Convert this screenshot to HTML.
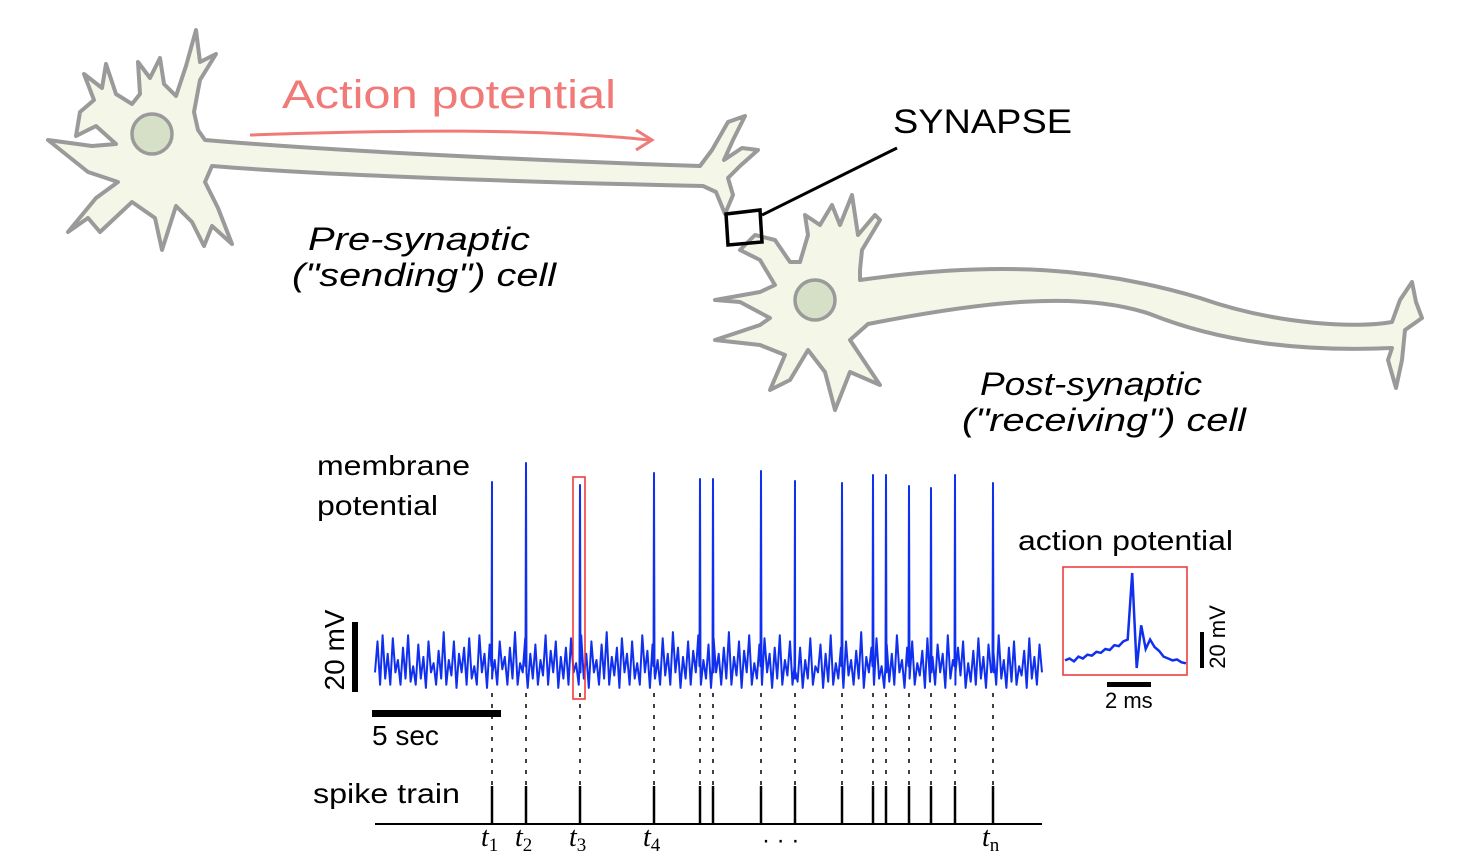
<!DOCTYPE html>
<html><head><meta charset="utf-8">
<style>
html,body{margin:0;padding:0;background:#fff;}
svg{display:block;}
text{font-family:"Liberation Sans",sans-serif;}
</style></head>
<body>
<svg id="fig" width="1476" height="857" viewBox="0 0 1476 857" xmlns="http://www.w3.org/2000/svg">
<g>
<path d="M205,140 C320,150 520,160 700,166 L712,150 L728,122 L745,116 L733,140 L724,160 L742,148 L758,150 L740,166 L728,178 L733,195 L725,214 L716,192 L703,186 C520,182 320,175 212,166 L205,182 L218,208 L232,244 L212,226 L204,246 L192,222 L176,206 L162,250 L155,218 L132,202 L100,232 L88,218 L68,232 L96,198 L118,182 L88,172 L48,140 L92,146 L116,144 L96,126 L76,136 L80,112 L94,100 L84,74 L102,88 L106,64 L116,94 L132,104 L140,94 L138,62 L150,78 L160,58 L164,84 L176,96 L186,66 L196,30 L200,62 L216,54 L200,80 L194,112 L198,130 Z" fill="#f4f6e8" stroke="#9a9a9a" stroke-width="4" stroke-linejoin="round"/>
<circle cx="152" cy="134" r="20" fill="#d6e0c7" stroke="#9a9a9a" stroke-width="3.5"/>
</g>
<g>
<path d="M860,280 C1000,260 1100,268 1200,298 C1280,326 1360,328 1392,322 L1400,300 L1412,282 L1416,302 L1422,318 L1405,330 L1402,360 L1396,388 L1388,360 L1392,348 C1300,352 1220,342 1150,314 C1080,290 980,302 868,324 L850,340 L880,385 L850,372 L835,410 L825,372 L808,350 L790,380 L770,390 L785,355 L760,345 L715,340 L760,325 L770,318 L740,302 L715,300 L760,292 L775,285 L760,260 L740,250 L755,235 L775,240 L790,262 L800,262 L808,235 L805,215 L820,225 L832,205 L840,225 L852,195 L858,235 L875,215 L880,220 L862,250 L860,270 Z" fill="#f4f6e8" stroke="#9a9a9a" stroke-width="4" stroke-linejoin="round"/>
<circle cx="815" cy="300" r="20" fill="#d6e0c7" stroke="#9a9a9a" stroke-width="3.5"/>
</g>
<path d="M726,214 L760,210 L762,242 L728,245 Z" fill="none" stroke="#000" stroke-width="3.5"/>
<line x1="762" y1="215" x2="897" y2="148" stroke="#000" stroke-width="3"/>
<text x="893" y="133" font-size="34" textLength="179" lengthAdjust="spacingAndGlyphs">SYNAPSE</text>
<text x="282" y="108" font-size="40" fill="#f07a78" textLength="334" lengthAdjust="spacingAndGlyphs">Action  potential</text>
<path d="M250,135 C400,130 530,128 650,140 M636,130 L652,140 L636,150" fill="none" stroke="#f07a78" stroke-width="3"/>
<text x="308" y="250" font-size="32" font-style="italic" textLength="222" lengthAdjust="spacingAndGlyphs">Pre-synaptic</text>
<text x="292" y="286" font-size="32" font-style="italic" textLength="264" lengthAdjust="spacingAndGlyphs">("sending") cell</text>
<text x="980" y="395" font-size="32" font-style="italic" textLength="222" lengthAdjust="spacingAndGlyphs">Post-synaptic</text>
<text x="962" y="431" font-size="32" font-style="italic" textLength="284" lengthAdjust="spacingAndGlyphs">("receiving") cell</text>

<text x="317" y="475" font-size="28" textLength="153" lengthAdjust="spacingAndGlyphs">membrane</text>
<text x="317" y="515" font-size="28" textLength="121" lengthAdjust="spacingAndGlyphs">potential</text>
<rect x="352" y="622" width="6" height="70" fill="#000"/>
<text transform="translate(344,650) rotate(-90)" text-anchor="middle" font-size="28">20 mV</text>
<rect x="372" y="710" width="129" height="7" fill="#000"/>
<text x="372" y="745" font-size="28">5 sec</text>
<text x="313" y="803" font-size="28" textLength="147" lengthAdjust="spacingAndGlyphs">spike train</text>
<line x1="375" y1="824" x2="1042" y2="824" stroke="#000" stroke-width="2"/>
<g id="trace"></g>
<g id="train"></g>
<rect x="573" y="477" width="12" height="222" fill="none" stroke="#f03030" stroke-width="1.5"/>
<text x="1018" y="550" font-size="28" textLength="215" lengthAdjust="spacingAndGlyphs">action potential</text>
<rect x="1063" y="567" width="124" height="108" fill="none" stroke="#f03030" stroke-width="1.5"/>
<path id="ap" fill="none" stroke="#1030f0" stroke-width="2.5"/>
<rect x="1107" y="682" width="44" height="5" fill="#000"/>
<text x="1105" y="708" font-size="22">2 ms</text>
<rect x="1200" y="632" width="4" height="36" fill="#000"/>
<text transform="translate(1225,637) rotate(-90)" text-anchor="middle" font-size="22">20 mV</text>
<text x="762" y="848" font-size="24">· · ·</text>
</svg>
<script>
var spikeTimes=[492,526,580,654,700,713,761,795,842,873,886,909,931,955,993];
var spikeTops=[482,463,485,473,479,479,471,481,483,475,475,486,488,475,483];
var tLabels=["1","2","3","4","n"];
var tLabelIdx=[0,1,2,3,14];
var noise=[0.3,0.8,0.1,0.9,0.2,0.6,0.1,0.85,0.3,0.5,0.1,0.7,0.2,0.9,0.15,0.4,0.1,0.75,0.2,0.55,0.05,0.8,0.3,0.45,0.1,0.65,0.2,0.95,0.1,0.5,0.25,0.8,0.05,0.6,0.3,0.7,0.1,0.85,0.2,0.4,0.1,0.9,0.3,0.6,0.05,0.75,0.2,0.5,0.1,0.8,0.35,0.55,0.1,0.7,0.2,0.95,0.1,0.45,0.3,0.85,0.05,0.6,0.2,0.75,0.1,0.5,0.25,0.9,0.1,0.65,0.3,0.8,0.05,0.55,0.2,0.7,0.1,0.85,0.3,0.45,0.1,0.9,0.2,0.6,0.05,0.8,0.3,0.5,0.1,0.75,0.2,0.95,0.1,0.55,0.25,0.7,0.05,0.85,0.3,0.6,0.1,0.8,0.2,0.45,0.1,0.9,0.3,0.65,0.05,0.75,0.2,0.5,0.1,0.85,0.25,0.6,0.1,0.95,0.3,0.7,0.05,0.55,0.2,0.8,0.1,0.65,0.3,0.9,0.1,0.5,0.2,0.75,0.05,0.85,0.3,0.6,0.1,0.7,0.2,0.95,0.1,0.55,0.25,0.8,0.05,0.65,0.3,0.9,0.1,0.45,0.2,0.75,0.1,0.85,0.3,0.6,0.05,0.7,0.2,0.9,0.1,0.5,0.25,0.8,0.1,0.2,
0.15,0.7,0.05,0.5,0.2,0.85,0.1,0.4,0.3,0.75,0.05,0.6,0.15,0.9,0.1,0.45,0.2,0.7,0.05,0.8,0.25,0.5,0.1,0.65,0.2,0.95,0.05,0.55,0.3,0.7,0.1,0.85,0.2,0.4,0.05,0.75,0.15,0.6,0.1,0.9,0.3,0.5,0.05,0.7,0.2,0.8,0.1,0.45,0.25,0.65,0.05,0.85,0.15,0.55,0.1,0.75,0.3,0.6,0.05,0.9,0.2,0.5,0.1,0.7,0.25,0.8,0.05,0.45,0.15,0.65,0.1,0.85,0.2,0.55,0.05,0.75,0.3,0.6,0.1,0.9,0.2,0.5,0.05,0.7,0.15,0.8,0.1,0.4,0.25,0.65,0.05,0.85,0.2,0.55,0.1,0.75,0.3];
var apShape=[0.08,0.1,0.07,0.12,0.1,0.14,0.13,0.17,0.16,0.2,0.19,0.24,0.23,0.28,0.3,1.0,0.0,0.45,0.2,0.3,0.22,0.18,0.12,0.1,0.08,0.09,0.06,0.05];
var NS="http://www.w3.org/2000/svg";
var x0=375,x1=1042,yBase=691,yAmp=62;
function xs(i,n){return x0+i*(x1-x0)/(n-1);}
function ys(v){return yBase-v*yAmp;}
var pts=[];
for(var i=0;i<noise.length;i++){pts.push([xs(i,noise.length),ys(noise[i])]);}
for(var k=0;k<spikeTimes.length;k++){pts.push([spikeTimes[k]-0.5,ys(0.4)],[spikeTimes[k],spikeTops[k]],[spikeTimes[k]+0.5,ys(0.3)]);}
pts.sort(function(a,b){return a[0]-b[0];});
var d="M"+pts.map(function(p){return p[0].toFixed(1)+","+p[1].toFixed(1);}).join(" L");
var tr=document.createElementNS(NS,"path");
tr.setAttribute("d",d);tr.setAttribute("fill","none");tr.setAttribute("stroke","#1030f0");tr.setAttribute("stroke-width","2");tr.setAttribute("stroke-linejoin","round");


document.getElementById("trace").appendChild(tr);
var train=document.getElementById("train");
for(var k=0;k<spikeTimes.length;k++){
 var x=spikeTimes[k];
 var dl=document.createElementNS(NS,"line");
 dl.setAttribute("x1",x);dl.setAttribute("x2",x);dl.setAttribute("y1",693);dl.setAttribute("y2",786);
 dl.setAttribute("stroke","#000");dl.setAttribute("stroke-width","1.5");dl.setAttribute("stroke-dasharray","4,7");
 
 
 train.appendChild(dl);
 var tk=document.createElementNS(NS,"line");
 tk.setAttribute("x1",x);tk.setAttribute("x2",x);tk.setAttribute("y1",786);tk.setAttribute("y2",824);
 tk.setAttribute("stroke","#000");tk.setAttribute("stroke-width","2.5");
 
 
 train.appendChild(tk);
}
for(var j=0;j<tLabels.length;j++){
 var x=spikeTimes[tLabelIdx[j]];
 var t=document.createElementNS(NS,"text");
 t.setAttribute("x",x-11);t.setAttribute("y",846);t.setAttribute("font-size","28");
 t.setAttribute("style","font-family:'Liberation Serif',serif;font-style:italic");
 
 
 t.textContent="t";
 var s=document.createElementNS(NS,"tspan");
 s.setAttribute("font-size","19");s.setAttribute("dy","5");s.setAttribute("style","font-style:normal");s.textContent=tLabels[j];
 t.appendChild(s);train.appendChild(t);
}
var ax0=1065,ax1=1186,ayB=668,ayA=95;
var ap=apShape.map(function(v,i){return (ax0+i*(ax1-ax0)/(apShape.length-1)).toFixed(1)+","+(ayB-v*ayA).toFixed(1);});
document.getElementById("ap").setAttribute("d","M"+ap.join(" L"));
</script>
</body></html>
